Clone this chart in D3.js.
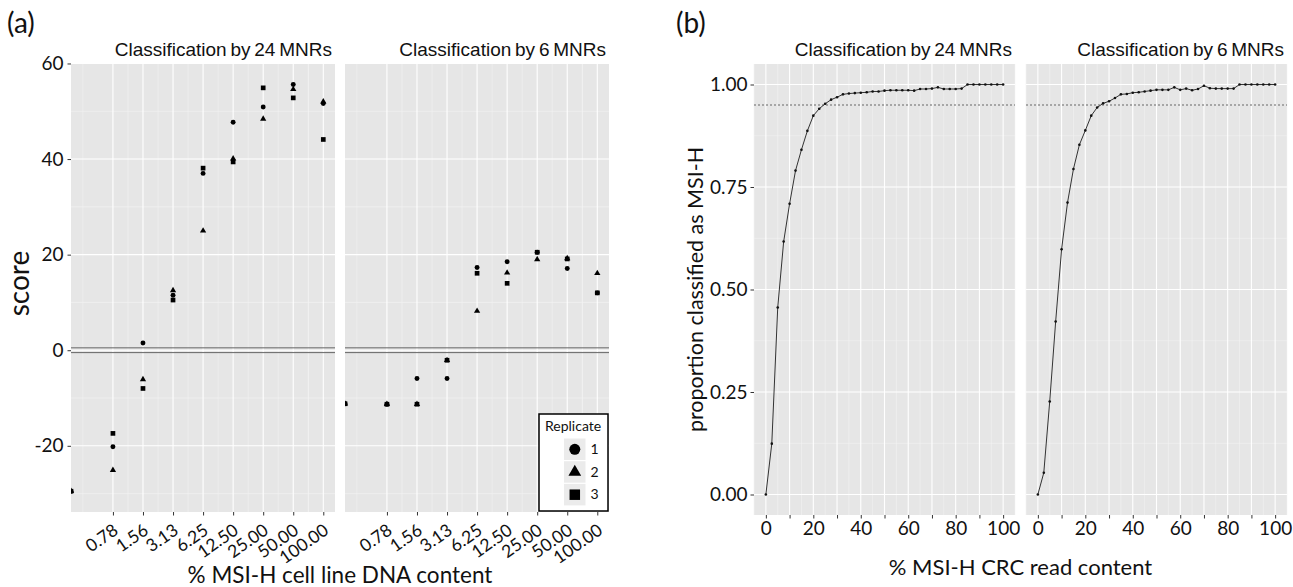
<!DOCTYPE html>
<html><head><meta charset="utf-8">
<script src="https://cdn.jsdelivr.net/npm/d3@7"></script>
<style>
body{margin:0;background:#fff}
svg{display:block}
text{font-family:Lato,"Open Sans",sans-serif;fill:#111}
.strip{font-family:"Liberation Sans",Arial,sans-serif;word-spacing:-1.5px}
</style></head><body>
<svg id="c" width="1293" height="587"></svg>
<script>
// ---------- data : panel (a) ----------
const concValues = [0, 0.78125, 1.5625, 3.125, 6.25, 12.5, 25, 50, 100];
const concLabels = ["0.78","1.56","3.13","6.25","12.50","25.00","50.00","100.00"];
const facetTitles = ["Classification by 24 MNRs","Classification by 6 MNRs"];
const replicates = ["1","2","3"];
const score24Rep1 = [-29.5, -20.2, 1.5, 11.5, 37.0, 47.7, 50.9, 55.6, 51.6];
const score24Rep2 = [-29.5, -25.1, -6.1, 12.5, 25.0, 40.1, 48.4, 54.6, 52.0];
const score24Rep3 = [-29.5, -17.4, -8.0, 10.5, 38.1, 39.4, 54.9, 52.8, 44.1];
const score6Rep1  = [-11.2, -11.3, -5.9, -5.9, 17.3, 18.5, 20.5, 17.1, 12.0];
const score6Rep2  = [-11.2, -11.3, -11.3, -2.1, 8.2, 16.2, 19.0, 19.2, 16.1];
const score6Rep3  = [-11.2, -11.3, -11.3, -2.1, 16.1, 14.0, 20.5, 19.1, 12.0];
const scoreThresholds = [0.5, -0.5];
const yTicksA = [-20, 0, 20, 40, 60];

// ---------- data : panel (b) ----------
const readContent = [0,2.5,5,7.5,10,12.5,15,17.5,20,22.5,25,27.5,30,32.5,35,37.5,40,42.5,45,47.5,50,
                     52.5,55,57.5,60,62.5,65,67.5,70,72.5,75,77.5,80,82.5,85,87.5,90,92.5,95,97.5,100];
const prop24 = [0,0.124,0.456,0.617,0.709,0.790,0.841,0.887,0.924,0.941,0.953,0.963,0.969,0.976,0.978,0.979,0.980,0.981,0.983,0.983,0.985,
                0.986,0.986,0.986,0.986,0.985,0.989,0.989,0.990,0.993,0.989,0.989,0.989,0.990,1,1,1,1,1,1,1];
const prop6  = [0,0.053,0.227,0.422,0.598,0.712,0.794,0.853,0.888,0.924,0.944,0.954,0.959,0.967,0.976,0.977,0.980,0.981,0.983,0.985,0.987,
                0.987,0.987,0.993,0.987,0.990,0.986,0.989,0.997,0.991,0.990,0.990,0.990,0.990,1,1,1,1,1,1,1];
const propThreshold = 0.95;
const yTicksB = [0, 0.25, 0.5, 0.75, 1];
const xTicksB = [0,10,20,30,40,50,60,70,80,90,100];
const xTickLabelsB = ["0","","20","","40","","60","","80","","100"];

// ---------- layout ----------
const svg = d3.select("#c");
const BG = "#e6e6e6";
const TICKFONT = "19px";
const A = {left:[71,345], w:264, top:63, bottom:512};
const B = {left:[754,1026], w:261, top:64, bottom:515};

const yA = d3.scaleLinear().domain([-33.85, 60.1]).range([A.bottom, A.top]);
const xA = d3.scaleLog().base(2).domain([0.297, 131]).range([0, A.w]).clamp(true);
const yB = d3.scaleLinear().domain([-0.05, 1.05]).range([B.bottom, B.top]);
const xB = d3.scaleLinear().domain([-5, 105]).range([0, B.w]);

const defs = svg.append("defs");

// ---------- panel (a) ----------
const seriesA = [
  [score24Rep1, score24Rep2, score24Rep3],
  [score6Rep1, score6Rep2, score6Rep3]
];
const shapes = [d3.symbolCircle, d3.symbolTriangle, d3.symbolSquare];
const shapeSize = [19, 17, 22];
const minorA = [0.390625].concat(d3.range(concValues.length-2).map(i=>Math.sqrt(concValues[i+1]*concValues[i+2]))).concat([Math.sqrt(50*100)]);
const minorYA = [-30,-10,10,30,50];

facetTitles.forEach((title, f) => {
  const g = svg.append("g").attr("transform", `translate(${A.left[f]},0)`);
  const cid = "clipA"+f;
  defs.append("clipPath").attr("id", cid).append("rect")
     .attr("x",0).attr("y",A.top).attr("width",A.w).attr("height",A.bottom-A.top);
  g.append("rect").attr("x",0).attr("y",A.top).attr("width",A.w).attr("height",A.bottom-A.top).attr("fill",BG);
  const grid = g.append("g").attr("clip-path",`url(#${cid})`);
  grid.selectAll(".mny").data(minorYA).join("line").attr("x1",0).attr("x2",A.w)
     .attr("y1",d=>yA(d)).attr("y2",d=>yA(d)).attr("stroke","#f4f4f4").attr("stroke-width",0.6);
  grid.selectAll(".mnx").data(minorA).join("line").attr("y1",A.top).attr("y2",A.bottom)
     .attr("x1",d=>xA(d)).attr("x2",d=>xA(d)).attr("stroke","#f4f4f4").attr("stroke-width",0.6);
  grid.selectAll(".mjy").data(yTicksA).join("line").attr("x1",0).attr("x2",A.w)
     .attr("y1",d=>yA(d)).attr("y2",d=>yA(d)).attr("stroke","#fff").attr("stroke-width",1.1);
  grid.selectAll(".mjx").data(concValues.slice(1)).join("line").attr("y1",A.top).attr("y2",A.bottom)
     .attr("x1",d=>xA(d)).attr("x2",d=>xA(d)).attr("stroke","#fff").attr("stroke-width",1.1);
  g.selectAll(".thr").data(scoreThresholds).join("line").attr("x1",0).attr("x2",A.w)
     .attr("y1",d=>yA(d)).attr("y2",d=>yA(d)).attr("stroke","#666").attr("stroke-width",1);
  const pts = g.append("g").attr("clip-path",`url(#${cid})`);
  seriesA[f].forEach((vals, r) => {
    pts.selectAll(".p"+r).data(vals.map((v,i)=>({x:concValues[i], y:v}))).join("path")
      .attr("d", d3.symbol().type(shapes[r]).size(shapeSize[r]))
      .attr("transform", d=>`translate(${xA(d.x)},${yA(d.y)})`)
      .attr("fill","#000");
  });
  const ax = g.append("g").attr("transform",`translate(0,${A.bottom})`)
    .call(d3.axisBottom(xA).tickValues(concValues.slice(1)).tickFormat((d,i)=>concLabels[i]).tickSize(3.5).tickPadding(0));
  ax.select(".domain").remove();
  ax.selectAll(".tick line").attr("stroke","#333");
  ax.selectAll(".tick text").attr("text-anchor","end").attr("y",0).attr("dy",0)
    .attr("transform","translate(6,21) rotate(-35)")
    .style("font-size","17.5px").style("font-family","Lato,sans-serif").attr("fill","#111");
  g.append("text").attr("class","strip").attr("x",A.w-3).attr("y",56).attr("text-anchor","end")
    .style("font-size","19px").text(title);
});
{
  const ay = svg.append("g").attr("transform",`translate(${A.left[0]},0)`)
    .call(d3.axisLeft(yA).tickValues(yTicksA).tickFormat(d=>String(d)).tickSize(3.5).tickPadding(4));
  ay.select(".domain").remove();
  ay.selectAll(".tick line").attr("stroke","#333");
  ay.selectAll(".tick text").style("font-size",TICKFONT).style("font-family","Lato,sans-serif").attr("fill","#111");
}
svg.append("text").attr("transform",`translate(29,${(A.top+A.bottom)/2 - 4}) rotate(-90)`).attr("text-anchor","middle")
  .style("font-size","28px").text("score");
svg.append("text").attr("x",(A.left[0]+A.left[1]+A.w)/2).attr("y",583).attr("text-anchor","middle")
  .style("font-size","22.5px").text("% MSI-H cell line DNA content");
svg.append("text").attr("x",7).attr("y",33).style("font-size","28px").text("(a)");

// legend (a)
{
  const lg = svg.append("g").attr("transform","translate(539,414)");
  lg.append("rect").attr("width",69).attr("height",97).attr("fill","#fff").attr("stroke","#000").attr("stroke-width",1.5);
  lg.append("text").attr("x",6).attr("y",17).style("font-size","14px").text("Replicate");
  const legSize = [95, 70, 110];
  replicates.forEach((r,i)=>{
    const yy = 24.5 + i*22.7;
    lg.append("rect").attr("x",25).attr("y",yy).attr("width",21.5).attr("height",21.5).attr("fill","#ebebeb");
    lg.append("path").attr("d",d3.symbol().type(shapes[i]).size(legSize[i])).attr("transform",`translate(35.8,${yy+10.8})`).attr("fill","#000");
    lg.append("text").attr("x",51.5).attr("y",yy+15.5).style("font-size","14px").text(r);
  });
}

// ---------- panel (b) ----------
const seriesB = [prop24, prop6];
const minorXB = [-5,5,15,25,35,45,55,65,75,85,95,105];
const minorYB = [0.125,0.375,0.625,0.875];
facetTitles.forEach((title, f) => {
  const g = svg.append("g").attr("transform", `translate(${B.left[f]},0)`);
  g.append("rect").attr("x",0).attr("y",B.top).attr("width",B.w).attr("height",B.bottom-B.top).attr("fill",BG);
  g.selectAll(".mny").data(minorYB).join("line").attr("x1",0).attr("x2",B.w)
     .attr("y1",d=>yB(d)).attr("y2",d=>yB(d)).attr("stroke","#f4f4f4").attr("stroke-width",0.6);
  g.selectAll(".mnx").data(minorXB).join("line").attr("y1",B.top).attr("y2",B.bottom)
     .attr("x1",d=>xB(d)).attr("x2",d=>xB(d)).attr("stroke","#f4f4f4").attr("stroke-width",0.6);
  g.selectAll(".mjy").data(yTicksB).join("line").attr("x1",0).attr("x2",B.w)
     .attr("y1",d=>yB(d)).attr("y2",d=>yB(d)).attr("stroke","#fff").attr("stroke-width",1.1);
  g.selectAll(".mjx").data(xTicksB).join("line").attr("y1",B.top).attr("y2",B.bottom)
     .attr("x1",d=>xB(d)).attr("x2",d=>xB(d)).attr("stroke","#fff").attr("stroke-width",1.1);
  g.append("line").attr("x1",0).attr("x2",B.w).attr("y1",yB(propThreshold)).attr("y2",yB(propThreshold))
     .attr("stroke","#666").attr("stroke-width",1).attr("stroke-dasharray","2,2");
  const data = readContent.map((x,i)=>({x, y:seriesB[f][i]}));
  g.append("path").datum(data).attr("fill","none").attr("stroke","#333").attr("stroke-width",1)
     .attr("d", d3.line().x(d=>xB(d.x)).y(d=>yB(d.y)));
  g.selectAll(".pt").data(data).join("circle").attr("cx",d=>xB(d.x)).attr("cy",d=>yB(d.y)).attr("r",1.3).attr("fill","#111");
  const ax = g.append("g").attr("transform",`translate(0,${B.bottom})`)
    .call(d3.axisBottom(xB).tickValues(xTicksB).tickFormat((d,i)=>xTickLabelsB[i]).tickSize(3.5).tickPadding(3));
  ax.select(".domain").remove();
  ax.selectAll(".tick line").attr("stroke","#333");
  ax.selectAll(".tick text").style("font-size",TICKFONT).style("font-family","Lato,sans-serif").attr("fill","#111");
  g.append("text").attr("class","strip").attr("x",B.w-3).attr("y",56).attr("text-anchor","end")
    .style("font-size","19px").text(title);
});
{
  const ay = svg.append("g").attr("transform",`translate(${B.left[0]},0)`)
    .call(d3.axisLeft(yB).tickValues(yTicksB).tickFormat(d3.format(".2f")).tickSize(3.5).tickPadding(3));
  ay.select(".domain").remove();
  ay.selectAll(".tick line").attr("stroke","#333");
  ay.selectAll(".tick text").style("font-size",TICKFONT).style("font-family","Lato,sans-serif").attr("fill","#111");
}
svg.append("text").attr("transform",`translate(703,${(B.top+B.bottom)/2}) rotate(-90)`).attr("text-anchor","middle")
  .style("font-size","21.5px").text("proportion classified as MSI-H");
svg.append("text").attr("x",(B.left[0]+B.left[1]+B.w)/2).attr("y",575).attr("text-anchor","middle")
  .style("font-size","22px").text("% MSI-H CRC read content");
svg.append("text").attr("x",676).attr("y",33).style("font-size","28px").text("(b)");
</script>
</body></html>
